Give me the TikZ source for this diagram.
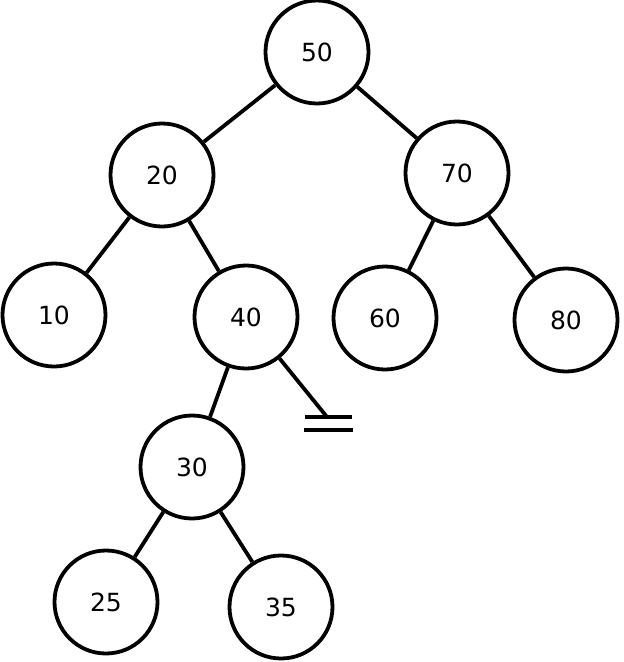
\documentclass[tikz,border=0pt]{standalone}
\usepackage{fontspec}
\setmainfont{DejaVu Sans}
\usepackage{tikz}
\usetikzlibrary{calc}

\begin{document}
\begin{tikzpicture}[x=1pt, y=-1pt, line width=3.8pt,
    key/.style={circle, draw, minimum size=103pt, inner sep=0pt, font=\fontsize{25}{28}\selectfont}]
    \useasboundingbox (0,0) rectangle (624,662);

    \node [key] (k50) at (317,52) {50};
    \node [key] (k20) at (162,175) {20};
    \node [key] (k70) at (457,173) {70};
    \node [key] (k10) at (54,315) {10};
    \node [key] (k40) at (246,317) {40};
    \node [key] (k60) at (385,318) {60};
    \node [key] (k80) at (566,320) {80};
    \node [key] (k30) at (192,467) {30};
    \node [key] (k25) at (106,602) {25};
    \node [key] (k35) at (281,607) {35};
    \coordinate (nil) at (327,417);

    \path (k50) edge (k20)
          (k50) edge (k70)
          (k20) edge (k10)
          (k20) edge (k40)
          (k70) edge (k60)
          (k70) edge (k80)
          (k40) edge (k30)
          (k40) edge (nil)
          (k30) edge (k25)
          (k30) edge (k35);

    % empty right child of 40
    \draw ($(nil)+(-22,0)$) -- ($(nil)+(25,0)$);
    \draw ($(nil)+(-23,13)$) -- ($(nil)+(26,13)$);
\end{tikzpicture}
\end{document}
